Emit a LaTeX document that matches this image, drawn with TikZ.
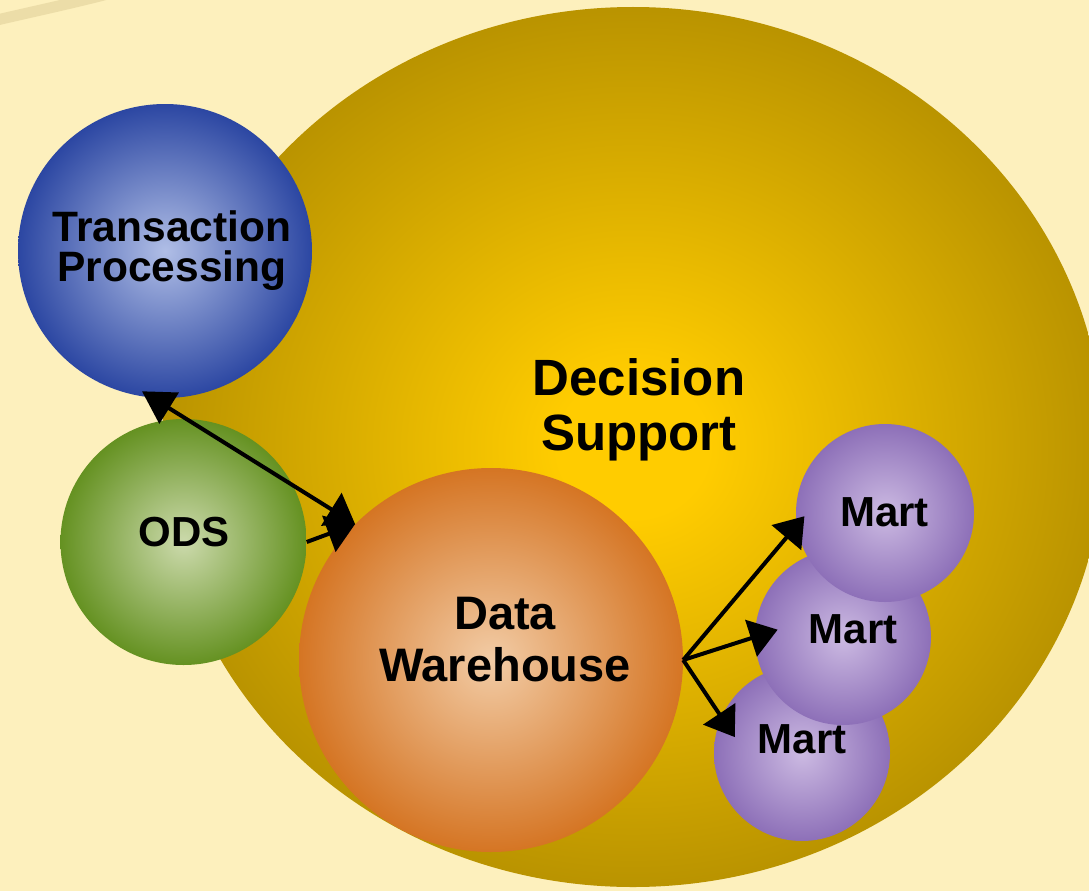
\documentclass[tikz,border=0pt]{standalone}
\usepackage{fontspec}
\setmainfont{Liberation Sans}
\usetikzlibrary{positioning,arrows.meta,shapes.geometric}

\definecolor{paper}{RGB}{253,240,189}
\definecolor{swoosh}{RGB}{230,214,160}
\definecolor{goldhi}{RGB}{255,204,0}
\definecolor{goldlo}{RGB}{179,142,0}
\definecolor{bluehi}{RGB}{176,190,230}
\definecolor{bluelo}{RGB}{12,42,146}
\definecolor{greenhi}{RGB}{204,218,172}
\definecolor{greenlo}{RGB}{76,128,0}
\definecolor{orangehi}{RGB}{242,204,166}
\definecolor{orangelo}{RGB}{206,96,4}
\definecolor{purplehi}{RGB}{204,186,226}
\definecolor{purplelo}{RGB}{126,94,174}

\pgfdeclareradialshading{goldglow}{\pgfpoint{0bp}{0bp}}{color(0bp)=(goldhi); color(4bp)=(goldhi); color(27bp)=(goldlo); color(50bp)=(goldlo)}
\pgfdeclareradialshading{blueball}{\pgfpoint{0bp}{0bp}}{color(0bp)=(bluehi); color(31bp)=(bluelo); color(50bp)=(bluelo)}
\pgfdeclareradialshading{greenball}{\pgfpoint{0bp}{0bp}}{color(0bp)=(greenhi); color(31bp)=(greenlo); color(50bp)=(greenlo)}
\pgfdeclareradialshading{orangeball}{\pgfpoint{0bp}{0bp}}{color(0bp)=(orangehi); color(31bp)=(orangelo); color(50bp)=(orangelo)}
\pgfdeclareradialshading{purpleball}{\pgfpoint{0bp}{0bp}}{color(0bp)=(purplehi); color(31bp)=(purplelo); color(50bp)=(purplelo)}

\tikzset{
  ball/.style={circle, inner sep=0pt, shade, minimum size=#1},
  lbl/.style 2 args={align=center, inner sep=0pt, text=black, font=\bfseries\fontsize{#1}{#2}\selectfont},
  flowarrow/.style={-{Triangle[length=28pt,width=38pt]}, line width=4pt},
  twowayarrow/.style={{Triangle[length=32pt,width=36pt]}-{Triangle[length=28pt,width=38pt]}, line width=4pt}
}

\begin{document}
\begin{tikzpicture}[x=1pt, y=-1pt]
  \useasboundingbox (0,0) rectangle (1089,891);
  \fill[paper] (0,0) rectangle (1089,891);
  \clip (0,0) rectangle (1089,891);
  \draw[swoosh, line width=11pt, opacity=.7] (-20,24) .. controls (30,12) and (80,2) .. (130,-12);

  \node[ellipse, inner sep=0pt, minimum width=942pt, minimum height=880pt, shade, shading=goldglow] (ds) at (633,447) {};
  \node[lbl={51}{55}] (dstext) at (639,410) {Decision\\Support};

  \node[ball=294pt, shading=blueball] (tp) at (165,251) {};
  \node[ball=246pt, shading=greenball] (ods) at (183.5,542) {};
  \node[ball=384pt, shading=orangeball] (dw) at (491,660) {};
  \node[ball=176pt, shading=purpleball] (m3) at (802,753) {};
  \node[ball=176pt, shading=purpleball] (m2) at (843,637) {};
  \node[ball=178pt, shading=purpleball] (m1) at (885,513) {};

  \node[lbl={42.5}{40}] (tptext) at (172,251) {Transaction\\Processing};
  \node[lbl={42}{46}] (odstext) at (184,532) {ODS};
  \node[lbl={47}{52}] (dwtext) at (505,640) {Data\\Warehouse};
  \node[lbl={42}{46}] (m1text) at (884.5,512) {Mart};
  \node[lbl={42}{46}] (m2text) at (853,629) {Mart};
  \node[lbl={42}{46}] (m3text) at (802,739) {Mart};

  \draw[twowayarrow, shorten <=-12pt] (tp.265) -- (dw.135);
  \draw[flowarrow] (ods.east) -- (dw.135);
  \draw[flowarrow, shorten >=-12pt] (dw.east) -- (m1.188);
  \draw[flowarrow, shorten >=-24pt] (dw.east) -- (m2.west);
  \draw[flowarrow, shorten >=-24pt] (dw.east) -- (m3.156);
\end{tikzpicture}
\end{document}
